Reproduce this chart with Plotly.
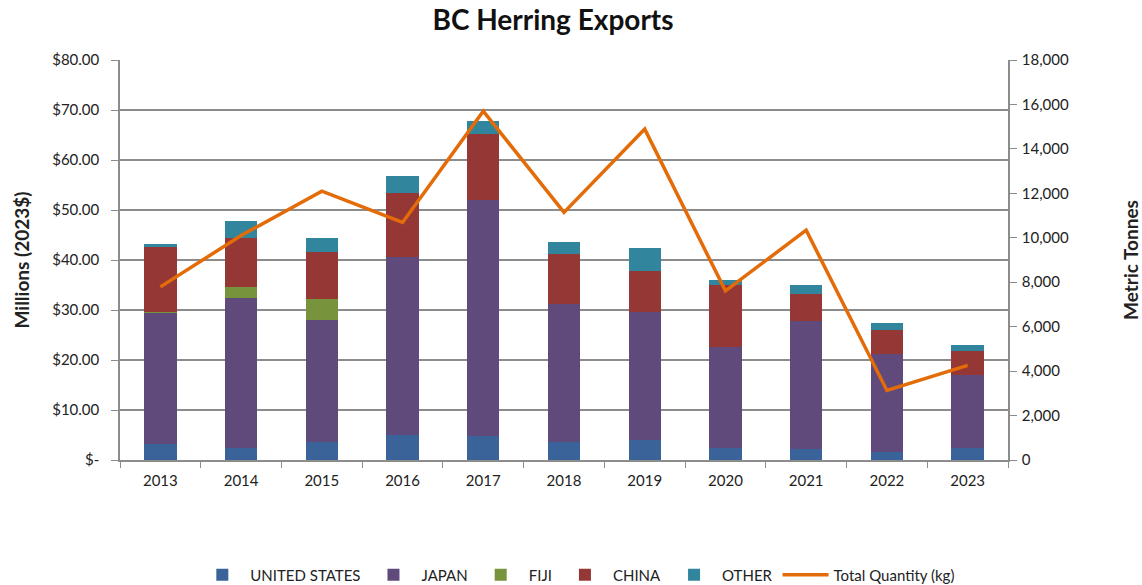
import plotly.graph_objects as go

years = ["2013", "2014", "2015", "2016", "2017", "2018", "2019", "2020", "2021", "2022", "2023"]
united_states = [3.2, 2.4, 3.6, 5.1, 4.8, 3.6, 4.0, 2.4, 2.2, 1.6, 2.4]
japan = [26.3, 30.0, 24.4, 35.5, 47.2, 27.7, 25.7, 20.3, 25.7, 19.6, 14.7]
fiji = [0.2, 2.2, 4.3, 0.0, 0.0, 0.0, 0.0, 0.0, 0.0, 0.0, 0.0]
china = [12.9, 9.9, 9.3, 12.9, 13.2, 10.0, 8.2, 12.3, 5.3, 4.8, 4.7]
other = [0.7, 3.3, 2.8, 3.3, 2.6, 2.3, 4.5, 1.0, 1.8, 1.5, 1.2]
total_quantity = [7790, 10100, 12100, 10690, 15700, 11140, 14890, 7610, 10340, 3130, 4260]

left_ticks = [0, 10, 20, 30, 40, 50, 60, 70, 80]
left_tick_text = ["$-", "$10.00", "$20.00", "$30.00", "$40.00", "$50.00", "$60.00", "$70.00", "$80.00"]

FONT = "Lato"
fig = go.Figure()
series = [
    ("UNITED STATES", united_states, "#3A6399"),
    ("JAPAN", japan, "#604A7B"),
    ("FIJI", fiji, "#77933C"),
    ("CHINA", china, "#953735"),
    ("OTHER", other, "#31859C"),
]
for name, vals, col in series:
    fig.add_trace(go.Bar(x=years, y=vals, name=name, marker=dict(color=col, line=dict(width=0))))

fig.add_trace(go.Scatter(x=years, y=total_quantity, name="Total Quantity (kg)", yaxis="y2",
                         mode="lines", line=dict(color="#E36C09", width=3.5)))

axis_grey = "#8C8C8C"
fig.update_layout(
    width=1142, height=585,
    barmode="stack", bargap=0.6,
    plot_bgcolor="white", paper_bgcolor="white",
    margin=dict(l=120, r=134, t=60, b=125, autoexpand=False),
    font=dict(family=FONT, size=15, color="#222"),
    title=dict(text="<b>BC Herring Exports</b>", x=553 / 1142, xanchor="center", y=1 - 20 / 585,
               yanchor="middle", font=dict(family=FONT, size=28, color="#111")),
    xaxis=dict(showline=True, linecolor=axis_grey, linewidth=1.5, ticks="outside", tickson="boundaries",
               tickcolor=axis_grey, ticklen=6, tickfont=dict(size=15), automargin=False,
               ticklabelstandoff=6),
    yaxis=dict(range=[0, 80], tickvals=left_ticks, ticktext=left_tick_text, showgrid=True,
               gridcolor=axis_grey, gridwidth=1.5, showline=True, linecolor=axis_grey, linewidth=1.5,
               ticks="outside", tickcolor=axis_grey, ticklen=7, zeroline=False, automargin=False,
               ticklabelstandoff=9,
               title=dict(text="<b>Millions (2023$)</b>", font=dict(size=19), standoff=18)),
    yaxis2=dict(range=[0, 18000], dtick=2000, tickformat=",", overlaying="y", side="right",
                showgrid=False, showline=True, linecolor=axis_grey, linewidth=1.5, ticks="outside",
                tickcolor=axis_grey, ticklen=7, zeroline=False, automargin=False,
                ticklabelstandoff=2,
                title=dict(text="<b>Metric Tonnes</b>", font=dict(size=19), standoff=62)),
    legend=dict(orientation="h", x=0.515, xanchor="center", y=-0.2875, yanchor="middle",
                font=dict(size=15), traceorder="normal", itemwidth=46),
)
fig.write_html("out.html", config={"displayModeBar": False},
               post_script="document.body.style.margin='0px';")
